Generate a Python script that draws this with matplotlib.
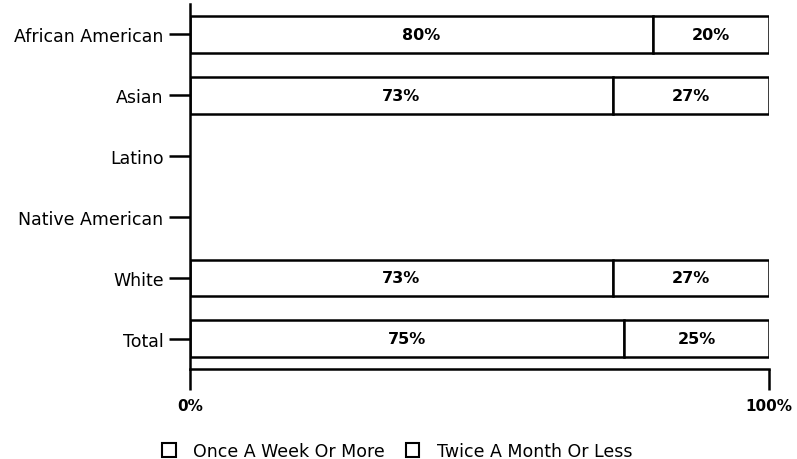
import matplotlib
matplotlib.use("Agg")
import matplotlib.pyplot as plt
import numpy as np
from matplotlib.patches import Patch

categories = ["African American", "Asian", "Latino", "Native American", "White", "Total"]
once_week = [80, 73, None, None, 73, 75]
twice_month = [20, 27, None, None, 27, 25]
series_names = ["Once A Week Or More", "Twice A Month Or Less"]
x_ticks = [0, 100]
x_ticklabels = ["0%", "100%"]

plt.rcParams['font.family'] = ['DejaVu Sans']
fig = plt.figure(figsize=(7.97, 4.60), dpi=100)
ax = fig.add_axes([190/797, 1 - 370/460, (769-190)/797, (370-5)/460])

ypos = np.arange(len(categories))
bar_h = 0.6
for i, (a, b) in enumerate(zip(once_week, twice_month)):
    if a is None:
        continue
    ax.barh(ypos[i], a, left=0, height=bar_h, color="white", edgecolor="black", linewidth=1.8)
    ax.barh(ypos[i], b, left=a, height=bar_h, color="white", edgecolor="black", linewidth=1.8)
    ax.text(a / 2, ypos[i], f"{a}%", ha="center", va="center", fontsize=11.5, fontweight="bold")
    ax.text(a + b / 2, ypos[i], f"{b}%", ha="center", va="center", fontsize=11.5, fontweight="bold")

ax.set_xlim(0, 100)
ax.set_ylim(len(categories) - 0.5, -0.5)
ax.set_yticks(ypos)
ax.set_yticklabels(categories, fontsize=12.5)
ax.set_xticks(x_ticks)
ax.set_xticklabels(x_ticklabels, fontsize=11, fontweight="bold")
ax.tick_params(axis="y", direction="out", length=15, width=1.8, pad=4)
ax.tick_params(axis="x", direction="out", length=15, width=1.8, pad=6)
for s in ["top", "right"]:
    ax.spines[s].set_visible(False)
ax.spines["left"].set_linewidth(1.8)
ax.spines["bottom"].set_linewidth(1.8)

handles = [Patch(facecolor="white", edgecolor="black", linewidth=1.5) for _ in series_names]
fig.legend(handles, series_names, loc="center", bbox_to_anchor=(397/797, 1 - 452/460),
           ncol=2, frameon=False, fontsize=12.5, handlelength=0.8, handleheight=0.8,
           handletextpad=1.0, columnspacing=1.2, borderpad=0)

fig.savefig("out.png", dpi=100)
